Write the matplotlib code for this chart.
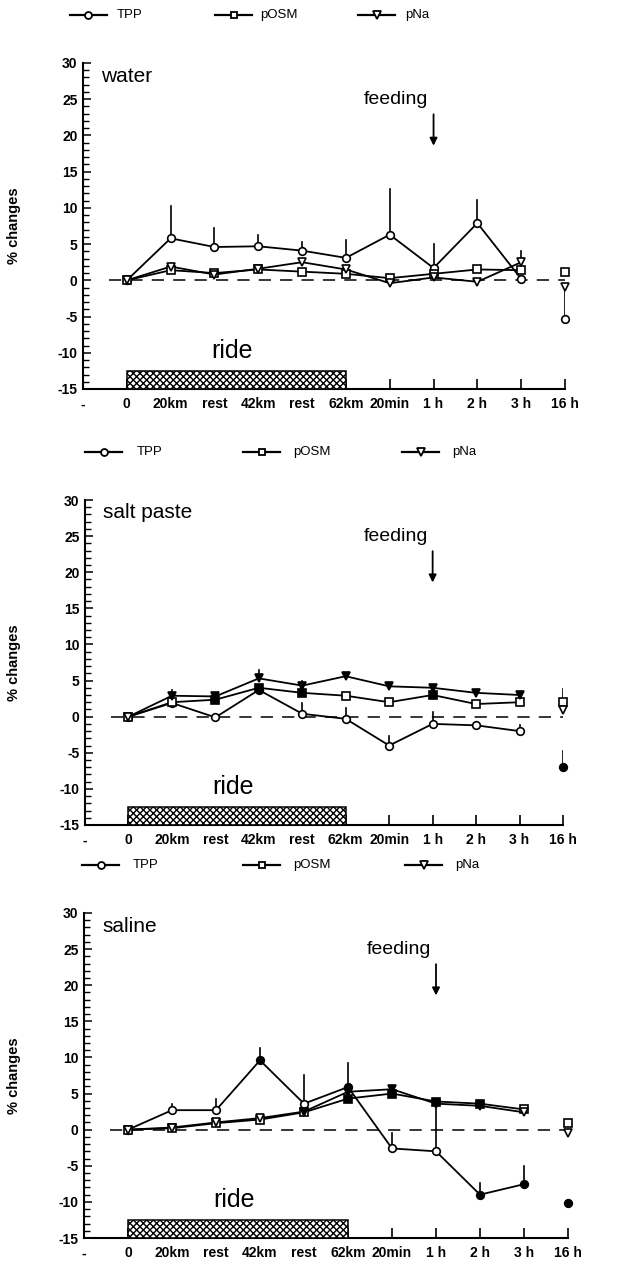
import numpy as np
import matplotlib
matplotlib.use("Agg")
import matplotlib.pyplot as plt
from matplotlib.ticker import MultipleLocator

plt.rcParams['font.family'] = ['Liberation Sans', 'DejaVu Sans']
plt.rcParams['hatch.linewidth'] = 1.0
plt.rcParams['axes.unicode_minus'] = False

# ---------------------------------------------------------------
# data, positions 1..11 = "0" .. "16 h"
# ---------------------------------------------------------------
categories = ["-", "0", "20km", "rest", "42km", "rest", "62km",
              "20min", "1 h", "2 h", "3 h", "16 h"]
nan = np.nan

water_tpp = [0, 5.8, 4.6, 4.7, 4.1, 3.1, 6.3, 1.7, 7.9, 0.2, -5.4]
water_posm = [0, 1.4, 1.0, 1.5, 1.2, 0.9, 0.3, 0.9, 1.5, 1.4, 1.1]
water_pna = [0, 1.9, 0.8, 1.6, 2.5, 1.5, -0.4, 0.4, -0.2, 2.5, -0.9]
water_tpp_err = [nan, 10.2, 7.2, 6.2, 5.3, 5.6, 12.6, 5.0, 11.1, nan, -0.9]
water_posm_err = [nan] * 11
water_pna_err = [nan, nan, nan, nan, nan, nan, nan, nan, nan, 4.1, nan]

salt_tpp = [0, 1.9, -0.1, 3.7, 0.4, -0.3, -4.0, -1.0, -1.2, -2.0, -7.0]
salt_posm = [0, 2.0, 2.35, 4.0, 3.3, 2.9, 2.0, 3.0, 1.75, 2.0, 2.1]
salt_pna = [0, 2.9, 2.8, 5.3, 4.3, 5.6, 4.2, 4.0, 3.3, 3.0, 0.9]
salt_tpp_err = [nan, nan, nan, nan, 1.9, 1.2, -2.7, 0.7, nan, -1.1, -4.8]
salt_posm_err = [nan, nan, nan, nan, nan, nan, nan, nan, nan, nan, 3.8]
salt_pna_err = [nan, 3.7, nan, 6.4, 4.9, nan, nan, nan, nan, nan, nan]

saline_tpp = [0, 2.7, 2.7, 9.6, 3.6, 5.9, -2.6, -3.0, -9.0, -7.55, -10.1]
saline_posm = [0, 0.2, 0.9, 1.4, 2.4, 4.3, 5.0, 3.9, 3.6, 2.8, 0.9]
saline_pna = [0, 0.3, 1.0, 1.6, 2.5, 5.25, 5.6, 3.6, 3.3, 2.4, -0.5]
saline_tpp_err = [nan, 3.6, 4.2, 11.3, 7.6, 9.2, -0.5, 3.4, -7.4, -5.0, nan]
saline_posm_err = [nan] * 11
saline_pna_err = [nan] * 11

# filled symbol = significant change
water_filled = {"TPP": [], "pOSM": [], "pNa": []}
salt_filled = {"TPP": [3, 10], "pOSM": [2, 3, 4, 7], "pNa": [1, 2, 3, 4, 5, 6, 7, 8, 9]}
saline_filled = {"TPP": [3, 5, 8, 9, 10], "pOSM": [5, 6, 7, 8], "pNa": [4, 5, 6, 7, 8]}

panels = [
    ("water", water_tpp, water_posm, water_pna,
     water_tpp_err, water_posm_err, water_pna_err, water_filled),
    ("salt paste", salt_tpp, salt_posm, salt_pna,
     salt_tpp_err, salt_posm_err, salt_pna_err, salt_filled),
    ("saline", saline_tpp, saline_posm, saline_pna,
     saline_tpp_err, saline_posm_err, saline_pna_err, saline_filled),
]

W, H = 627, 1267
# axes boxes in pixels: left, right, top, bottom
boxes = [(83, 565, 63, 389), (85, 563, 500, 825), (84, 568, 913, 1238)]
# legend pixel positions: (handle start x, label x) per series, and y
legend_pos = [
    ([(70, 117), (215, 260), (358, 405)], 15),
    ([(85, 137), (243, 293), (402, 452)], 452),
    ([(82, 133), (243, 293), (405, 455)], 865),
]
markers = {"TPP": ("o", 5.5), "pOSM": ("s", 5.5), "pNa": ("v", 6)}

fig = plt.figure(figsize=(W / 100, H / 100), dpi=100)
x = np.arange(1, 12)

for (name, tpp, posm, pna, e_tpp, e_posm, e_pna, filled), box, (lpos, ly) in zip(panels, boxes, legend_pos):
    l, r, t, b = box
    ax = fig.add_axes([l / W, 1 - b / H, (r - l) / W, (b - t) / H])

    # zero line and ride bar
    ax.plot([0.6, 11], [0, 0], color="black", lw=1.1, dashes=(8, 6), zorder=1)
    ax.bar(3.5, 2.5, width=5, bottom=-15, facecolor="white", edgecolor="black",
           hatch="xxxxx", lw=1.1, zorder=4)
    ax.text(3.4, -9.8, "ride", ha="center", va="center", fontsize=18)
    ax.text(0.42, 28.2, name, ha="left", va="center", fontsize=15)
    ax.text(7.15, 24.9, "feeding", ha="center", va="center", fontsize=14)
    ax.annotate("", xy=(8.0, 18.2), xytext=(8.0, 23.3),
                arrowprops=dict(arrowstyle="-|>", color="black", lw=1.3,
                                mutation_scale=11))

    for key, vals, errs in (("TPP", tpp, e_tpp), ("pOSM", posm, e_posm), ("pNa", pna, e_pna)):
        m, ms = markers[key]
        vals = np.array(vals, dtype=float)
        errs = np.array(errs, dtype=float)
        # upward error bars
        for xi, v, e in zip(x, vals, errs):
            if not np.isnan(e):
                ax.plot([xi, xi], [v, e], color="black", lw=1.2, zorder=2)
        ax.plot(x[:10], vals[:10], color="black", lw=1.3, zorder=3)
        faces = ["black" if i in filled[key] else "white" for i in range(11)]
        for xi, v, fc in zip(x, vals, faces):
            ax.plot(xi, v, marker=m, ms=ms, mfc=fc, mec="black", mew=1.2,
                    ls="none", zorder=5, clip_on=False)

    # legend drawn by hand above the panel
    for (hx, tx), key in zip(lpos, ("TPP", "pOSM", "pNa")):
        m, ms = markers[key]
        fx0, fx1 = hx / W, (hx + 37) / W
        fy = 1 - ly / H
        fig.add_artist(plt.Line2D([fx0, fx1], [fy, fy], color="black", lw=1.6,
                                  transform=fig.transFigure))
        fig.add_artist(plt.Line2D([(fx0 + fx1) / 2], [fy], marker=m, ms=ms - 0.5,
                                  mfc="white", mec="black", mew=1.3, ls="none",
                                  transform=fig.transFigure))
        fig.text(tx / W, fy, key, ha="left", va="center", fontsize=9.5)

    ax.set_xlim(0, 11)
    ax.set_ylim(-15, 30)
    ax.set_xticks(range(12))
    ax.set_xticklabels(categories, fontsize=10, fontweight="bold")
    ax.yaxis.set_major_locator(MultipleLocator(5))
    ax.yaxis.set_minor_locator(MultipleLocator(1))
    ax.tick_params(axis="y", which="major", direction="in", length=6, width=1.1,
                   labelsize=10, pad=4)
    ax.tick_params(axis="y", which="minor", direction="in", length=4, width=1.0)
    ax.tick_params(axis="x", direction="in", length=7, width=1.2, pad=6)
    for lab in ax.get_yticklabels():
        lab.set_fontweight("bold")
    for s in ("top", "right"):
        ax.spines[s].set_visible(False)
    for s in ("left", "bottom"):
        ax.spines[s].set_linewidth(1.5)
    ax.set_ylabel("% changes", fontsize=10.5, fontweight="bold")
    ax.yaxis.set_label_coords(-(l - 21) / (r - l), 0.5)

fig.savefig("out.png", dpi=100)
